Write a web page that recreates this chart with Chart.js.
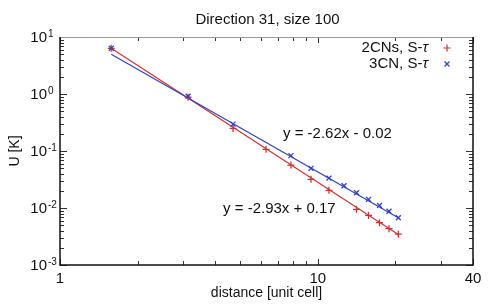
<!DOCTYPE html>
<html>
<head>
<meta charset="utf-8">
<script src="https://cdn.jsdelivr.net/npm/chart.js@4.4.1/dist/chart.umd.min.js"></script>
<style>
  html, body { margin: 0; padding: 0; background: #fff; }
</style>
</head>
<body>
<canvas id="chart" width="491" height="308"></canvas>
<script>
// values (log-log)
const dist2CN = [1.58, 3.14, 4.69, 6.30, 7.87, 9.41, 11.05, 14.13, 15.73, 17.35, 18.89, 20.53];
const u2CN = [6.34, 0.879, 0.249, 0.107, 0.0566, 0.0318, 0.0204, 0.00948, 0.0074, 0.00553, 0.00434, 0.00347];
const dist3CN = [1.58, 3.14, 4.69, 7.87, 9.41, 11.05, 12.64, 14.13, 15.73, 17.35, 18.89, 20.53];
const u3CN = [6.34, 0.915, 0.296, 0.083, 0.0496, 0.0335, 0.0246, 0.0185, 0.0142, 0.0111, 0.00875, 0.00676];

// fitted lines, end points
const fit2CNx = [1.58, 20.53];
const fit2CNy = [6.34, 0.00344];
const fit3CNx = [1.58, 20.6];
const fit3CNy = [4.98, 0.0067];

const fitLabels = ['y = -2.62x - 0.02', 'y = -2.93x + 0.17'];
const fitLabelX = [7.33, 4.29];
const fitLabelY = [0.198, 0.0096];

const seriesNames = ['2CNs, S-', '3CN, S-'];
const xTickValues = [1, 2, 3, 4, 5, 6, 7, 8, 9, 10, 20, 30, 40];
const xTickLabels = { 1: '1', 10: '10', 40: '40' };
const yTickValues = [0.001, 0.01, 0.1, 1, 10];
const yTickExps = ['-3', '-2', '-1', '0', '1'];

const RED = '#cc3333';
const BLUE = '#3040c0';
const FONT = "'Liberation Sans', Arial, sans-serif";

const toPts = (xs, ys) => xs.map((x, i) => ({ x: x, y: ys[i] }));

const frame = {
  id: 'frame',
  afterDraw(chart) {
    const { ctx, chartArea: a, scales: { x, y } } = chart;
    ctx.save();

    // inward ticks on all four sides
    ctx.strokeStyle = '#333';
    ctx.lineWidth = 1;
    ctx.beginPath();
    xTickValues.forEach(v => {
      const px = Math.round(x.getPixelForValue(v)) + 0.5;
      const len = xTickLabels[v] ? 6 : 4;
      ctx.moveTo(px, a.bottom); ctx.lineTo(px, a.bottom - len);
      ctx.moveTo(px, a.top); ctx.lineTo(px, a.top + len);
    });
    yTickValues.forEach((v, i) => {
      let py = Math.round(y.getPixelForValue(v)) + 0.5;
      ctx.moveTo(a.left, py); ctx.lineTo(a.left + 7, py);
      ctx.moveTo(a.right, py); ctx.lineTo(a.right - 7, py);
      if (i < yTickValues.length - 1) {
        for (let k = 2; k <= 9; k++) {
          py = Math.round(y.getPixelForValue(v * k)) + 0.5;
          ctx.moveTo(a.left, py); ctx.lineTo(a.left + 4, py);
          ctx.moveTo(a.right, py); ctx.lineTo(a.right - 4, py);
        }
      }
    });
    ctx.stroke();

    // box
    ctx.strokeStyle = '#999';
    ctx.lineWidth = 1;
    ctx.beginPath();
    ctx.moveTo(a.left, a.top + 0.5); ctx.lineTo(a.right, a.top + 0.5);
    ctx.stroke();
    ctx.strokeStyle = '#111';
    ctx.lineWidth = 1.5;
    ctx.beginPath();
    ctx.moveTo(a.left, a.top); ctx.lineTo(a.left, a.bottom);
    ctx.lineTo(a.right, a.bottom); ctx.lineTo(a.right, a.top);
    ctx.stroke();

    // y tick labels 10^n
    ctx.fillStyle = '#111';
    yTickValues.forEach((v, i) => {
      const py = y.getPixelForValue(v);
      ctx.font = '15px ' + FONT;
      ctx.textAlign = 'right';
      ctx.textBaseline = 'middle';
      ctx.fillText('10', 47, py + 1);
      ctx.font = '10px ' + FONT;
      ctx.textAlign = 'left';
      ctx.textBaseline = 'top';
      ctx.fillText(yTickExps[i], 48, py - 8);
    });

    // title
    ctx.font = '15px ' + FONT;
    ctx.textAlign = 'center';
    ctx.textBaseline = 'middle';
    ctx.fillText('Direction 31, size 100', (a.left + a.right) / 2 + 1, 20);

    // legend (text right, marker after it)
    const colors = [RED, BLUE];
    const styles = ['cross', 'crossRot'];
    seriesNames.forEach((name, i) => {
      const ty = 48 + i * 16;
      ctx.font = 'italic 15px ' + FONT;
      const tauW = ctx.measureText('τ').width;
      ctx.fillStyle = '#111';
      ctx.textAlign = 'right';
      ctx.textBaseline = 'middle';
      ctx.fillText('τ', 428, ty);
      ctx.font = '15px ' + FONT;
      ctx.fillText(name, 428 - tauW, ty);
      ctx.strokeStyle = colors[i];
      ctx.lineWidth = 1.2;
      Chart.helpers.drawPoint(ctx, { pointStyle: styles[i], radius: 3.5, borderWidth: 1.2 }, 447, ty);
    });

    // fit equations
    ctx.fillStyle = '#111';
    ctx.font = '15px ' + FONT;
    ctx.textAlign = 'left';
    ctx.textBaseline = 'middle';
    fitLabels.forEach((t, i) => {
      ctx.fillText(t, x.getPixelForValue(fitLabelX[i]), y.getPixelForValue(fitLabelY[i]));
    });

    ctx.restore();
  }
};

new Chart(document.getElementById('chart'), {
  type: 'scatter',
  data: {
    datasets: [
      { label: '2CNs fit', data: toPts(fit2CNx, fit2CNy), showLine: true, borderColor: RED,
        borderWidth: 1.2, pointRadius: 0, order: 4 },
      { label: '3CN fit', data: toPts(fit3CNx, fit3CNy), showLine: true, borderColor: BLUE,
        borderWidth: 1.2, pointRadius: 0, order: 3 },
      { label: '2CNs, S-τ', data: toPts(dist2CN, u2CN), pointStyle: 'cross', pointRadius: 3.5,
        borderColor: RED, backgroundColor: RED, borderWidth: 1.3, order: 2 },
      { label: '3CN, S-τ', data: toPts(dist3CN, u3CN), pointStyle: 'crossRot', pointRadius: 3.5,
        borderColor: BLUE, backgroundColor: BLUE, borderWidth: 1.3, order: 1 }
    ]
  },
  options: {
    responsive: false,
    animation: false,
    layout: { padding: { top: 37, right: 18, left: 0, bottom: 0 } },
    plugins: {
      legend: { display: false },
      title: { display: false },
      tooltip: { enabled: false }
    },
    scales: {
      x: {
        type: 'logarithmic',
        min: 1,
        max: 40,
        afterBuildTicks: s => { s.ticks = xTickValues.map(v => ({ value: v })); },
        afterFit: s => { s.height = 43; },
        grid: { display: false, drawTicks: false },
        border: { display: false },
        ticks: {
          autoSkip: false,
          maxRotation: 0,
          padding: 5,
          color: '#111',
          font: { family: FONT, size: 15 },
          callback: v => xTickLabels[v] || ''
        },
        title: {
          display: true,
          text: 'distance [unit cell]',
          color: '#111',
          font: { family: FONT, size: 14 },
          padding: { top: 0, bottom: 6 }
        }
      },
      y: {
        type: 'logarithmic',
        min: 0.001,
        max: 10,
        afterFit: s => { s.width = 60; },
        grid: { display: false },
        border: { display: false },
        ticks: { display: false },
        title: {
          display: true,
          text: 'U [K]',
          color: '#111',
          font: { family: FONT, size: 14 },
          padding: { top: 7, bottom: 0 }
        }
      }
    }
  },
  plugins: [frame]
});
</script>
</body>
</html>
